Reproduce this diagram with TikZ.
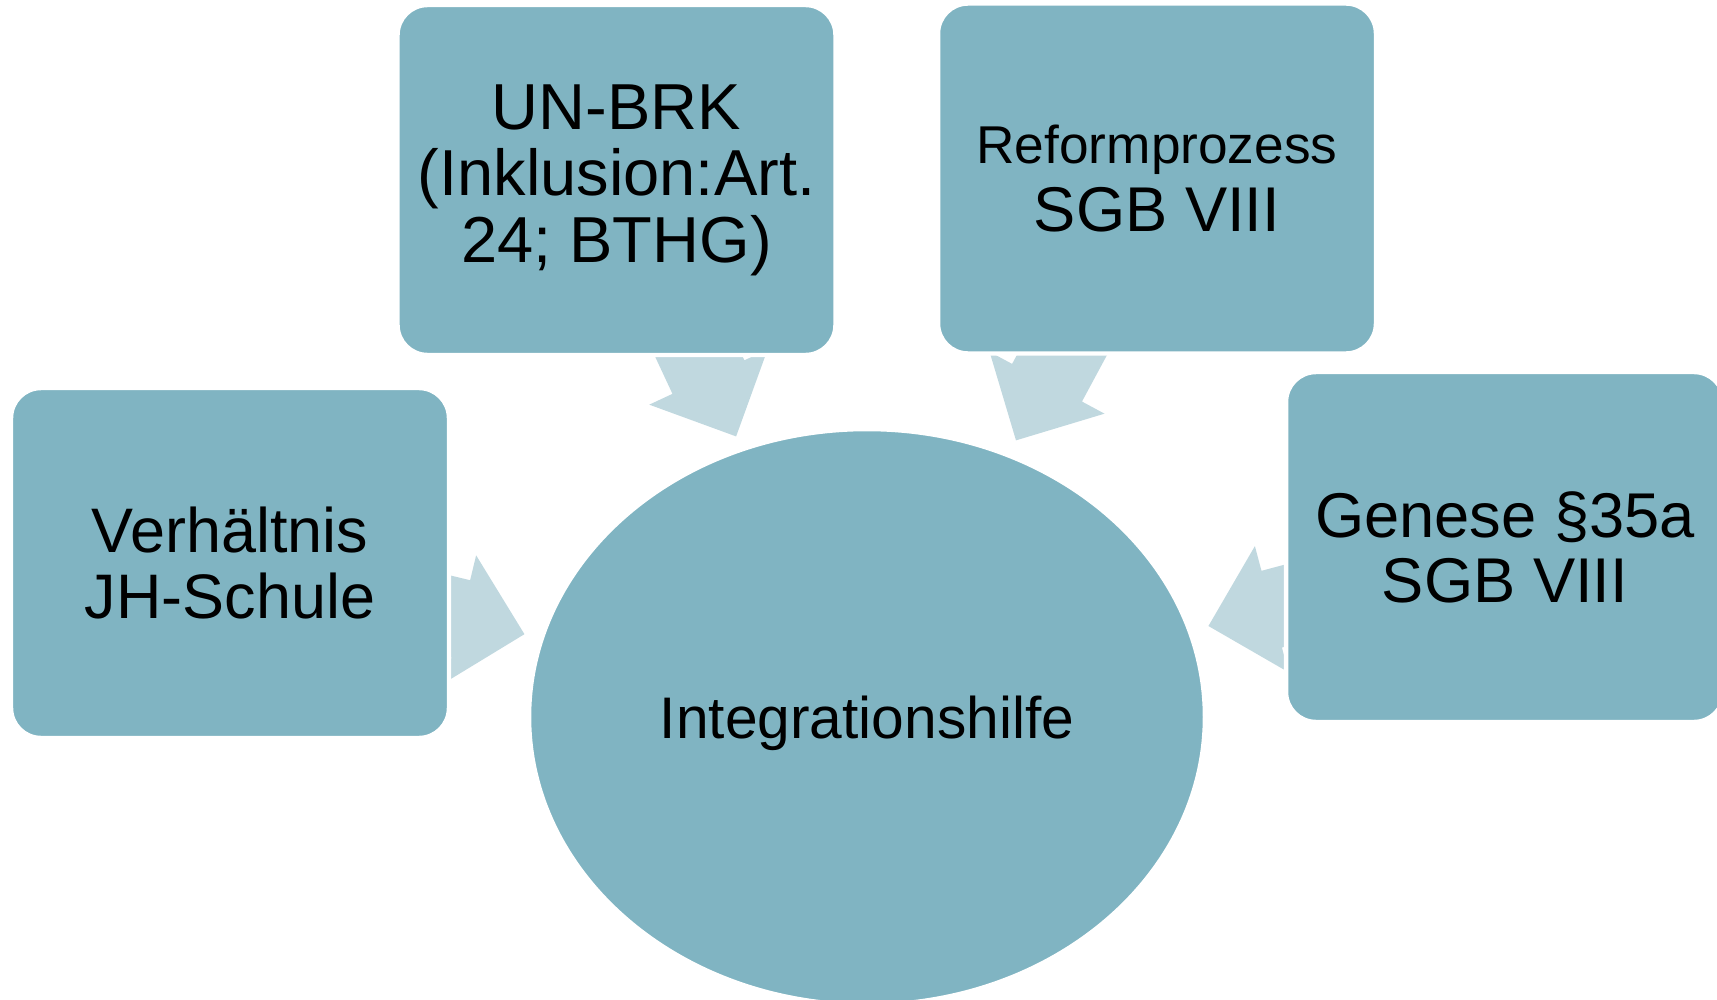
\documentclass[tikz,border=0pt]{standalone}
\usepackage{fontspec}
\setmainfont{Liberation Sans}
\usetikzlibrary{shapes.geometric,calc,backgrounds}
\definecolor{boxblue}{RGB}{128,180,194}
\definecolor{arrowblue}{RGB}{192,216,223}
% block arrow from node #1 towards node #2, tip at distance #3 (cm) from #1
\newcommand{\blockarrow}[3]{%
  \coordinate (t) at ($(#1.center)!#3cm!(#2.center)$);
  \coordinate (h) at ($(#1.center)!#3cm-1.31cm!(#2.center)$);
  \fill[arrowblue] ($(#1.center)!0.794cm!90:(#2.center)$)
    --($(h)!0.794cm!90:(#2.center)$)--($(h)!1.306cm!90:(#2.center)$)
    --(t)--($(h)!1.306cm!-90:(#2.center)$)--($(h)!0.794cm!-90:(#2.center)$)
    --($(#1.center)!0.794cm!-90:(#2.center)$)--cycle;}
\begin{document}
\begin{tikzpicture}[x=0.02cm,y=-0.02cm,
  box/.style={rectangle,rounded corners=0.6cm,fill=boxblue,draw=white,line width=2.5pt,
    minimum width=8.76cm,minimum height=7cm,align=center,inner sep=0pt}]
\clip (0,0) rectangle (1717,1000);
\node[box,font=\fontsize{37}{37.9}\selectfont] (unbrk) at (616.5,180) {UN-BRK\\(Inklusion:Art.\\24; BTHG)};
\node[box,font=\fontsize{36}{38.5}\selectfont] (reform) at (1157,178.5) {{\fontsize{30.3}{38.5}\selectfont Reformprozess}\\SGB VIII};
\node[box,font=\fontsize{35.8}{37.9}\selectfont] (verh) at (230,563) {Verhältnis\\JH-Schule};
\node[box,font=\fontsize{36}{37}\selectfont] (genese) at (1505,547) {Genese §35a\\SGB VIII};
\node[ellipse,fill=boxblue,draw=white,line width=2.5pt,minimum width=13.52cm,minimum height=11.52cm,
  inner sep=0pt,text depth=0pt,font=\fontsize{33.4}{35}\selectfont] (integ) at (867,717) {Integrationshilfe};
\begin{scope}[on background layer]
\blockarrow{unbrk}{integ}{5.66}
\blockarrow{reform}{integ}{5.95}
\blockarrow{verh}{integ}{6.06}
\blockarrow{genese}{integ}{6.14}
\end{scope}
\end{tikzpicture}
\end{document}
